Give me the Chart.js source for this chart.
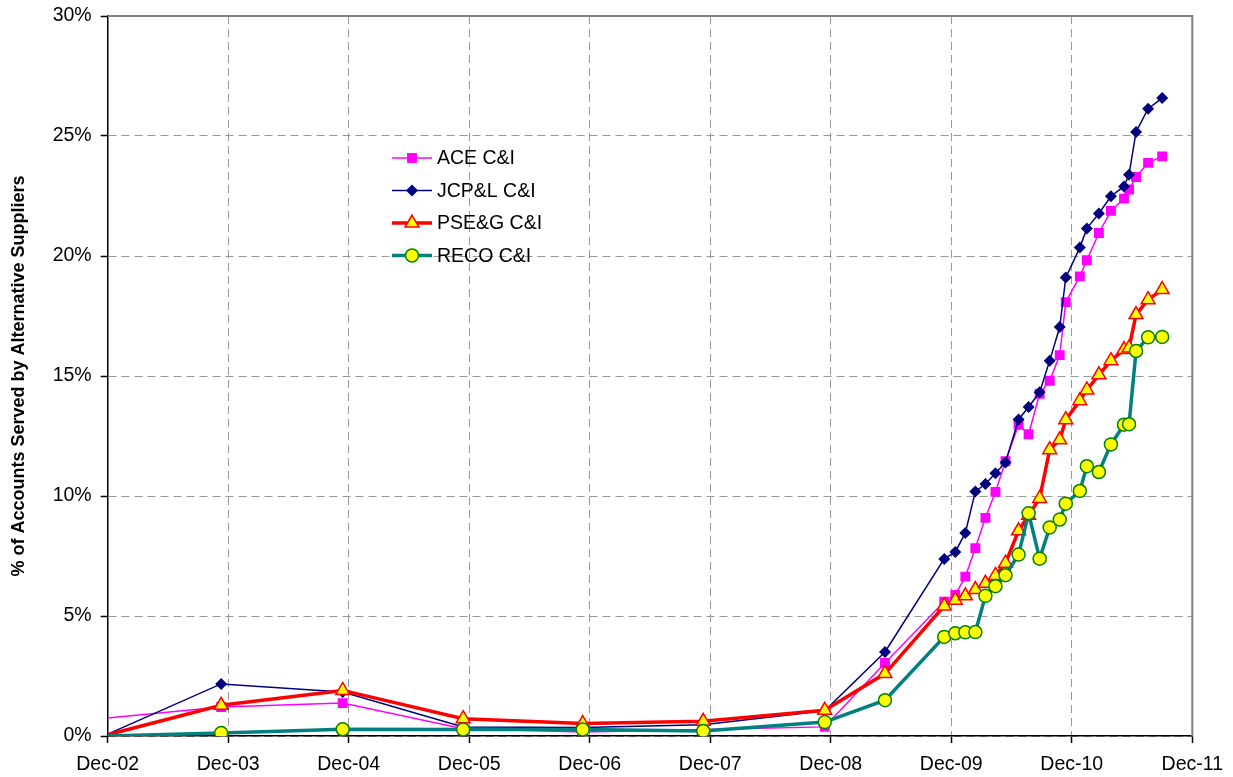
<!DOCTYPE html>
<html>
<head>
<meta charset="utf-8">
<script src="https://cdn.jsdelivr.net/npm/chart.js@4.4.0/dist/chart.umd.min.js"></script>
<style>
  html, body { margin: 0; padding: 0; background: #fff; }
  #wrap { width: 1233px; height: 777px; position: relative; }
</style>
</head>
<body>
<div id="wrap"><canvas id="chart"></canvas></div>
<script>
// months since Dec-02 for each reading
const months = [0, 11.3, 23.4, 35.4, 47.3, 59.3, 71.4, 77.4, 83.3, 84.4, 85.4, 86.4, 87.4, 88.4, 89.4,
  90.7, 91.7, 92.8, 93.8, 94.8, 95.4, 96.8, 97.5, 98.7, 99.9, 101.2, 101.7, 102.4, 103.6, 105.0];

const aceCI = [0.75, 1.21, 1.37, 0.3, 0.17, 0.27, 0.38, 3.04, 5.6, 5.88, 6.64, 7.83, 9.09, 10.17, 11.45,
  12.97, 12.57, 14.26, 14.8, 15.87, 18.08, 19.15, 19.82, 20.96, 21.88, 22.39, 22.77, 23.29, 23.88, 24.15];

const jcplCI = [0.08, 2.17, 1.83, 0.38, 0.35, 0.47, 1.05, 3.5, 7.38, 7.67, 8.46, 10.19, 10.5, 10.95, 11.4,
  13.19, 13.71, 14.32, 15.64, 17.04, 19.1, 20.35, 21.15, 21.77, 22.49, 22.9, 23.39, 25.17, 26.14, 26.58];

const psegCI = [0.05, 1.28, 1.9, 0.72, 0.52, 0.61, 1.07, 2.6, 5.42, 5.66, 5.84, 6.1, 6.36, 6.69, 7.2,
  8.55, 9.2, 9.9, 11.93, 12.34, 13.18, 13.97, 14.42, 15.05, 15.64, 16.1, 16.17, 17.56, 18.18, 18.6];

const recoCI = [0.0, 0.12, 0.28, 0.27, 0.27, 0.21, 0.58, 1.49, 4.13, 4.28, 4.32, 4.33, 5.84, 6.24, 6.7,
  7.56, 9.28, 7.39, 8.69, 9.02, 9.68, 10.21, 11.24, 11.0, 12.15, 12.97, 12.99, 16.04, 16.61, 16.63];

const xTickLabels = ["Dec-02", "Dec-03", "Dec-04", "Dec-05", "Dec-06", "Dec-07", "Dec-08", "Dec-09", "Dec-10", "Dec-11"];
const yTicks = [0, 5, 10, 15, 20, 25, 30];

const FONT = "'Liberation Sans', Arial, Helvetica, sans-serif";

function toPoints(values) {
  return values.map((v, i) => ({ x: months[i], y: v }));
}

// first reading sits on the axis with no marker
function radii(r) {
  return months.map((m, i) => (i === 0 ? 0 : r));
}

const datasets = [
  {
    label: "ACE C&I",
    data: toPoints(aceCI),
    borderColor: "#ff00ff",
    backgroundColor: "#ff00ff",
    borderWidth: 1.5,
    pointStyle: "rect",
    pointRadius: radii(7),
    pointBorderWidth: 0,
    pointBackgroundColor: "#ff00ff",
    order: 4,
  },
  {
    label: "JCP&L C&I",
    data: toPoints(jcplCI),
    borderColor: "#000080",
    backgroundColor: "#000080",
    borderWidth: 1.5,
    pointStyle: "rectRot",
    pointRadius: radii(6),
    pointBorderWidth: 0,
    pointBackgroundColor: "#000080",
    order: 3,
  },
  {
    label: "PSE&G C&I",
    data: toPoints(psegCI),
    borderColor: "#ff0000",
    backgroundColor: "#ffff00",
    borderWidth: 3.5,
    pointStyle: "triangle",
    pointRadius: radii(8),
    pointBorderWidth: 1.5,
    pointBorderColor: "#ff0000",
    pointBackgroundColor: "#ffff00",
    order: 2,
  },
  {
    label: "RECO C&I",
    data: toPoints(recoCI),
    borderColor: "#008080",
    backgroundColor: "#ffff00",
    borderWidth: 3.5,
    pointStyle: "circle",
    pointRadius: radii(6.5),
    pointBorderWidth: 1.5,
    pointBorderColor: "#008000",
    pointBackgroundColor: "#ffff00",
    order: 1,
  },
];

// legend box inside the plot, like the original
const insideLegend = {
  id: "insideLegend",
  afterDraw(chart) {
    const ctx = chart.ctx;
    const x0 = 392, x1 = 432, tx = 437;
    const ys = [158, 190.5, 223, 255.5];
    ctx.save();
    datasets.forEach((ds, i) => {
      const y = ys[i];
      ctx.beginPath();
      ctx.strokeStyle = ds.borderColor;
      ctx.lineWidth = ds.borderWidth;
      ctx.moveTo(x0, y);
      ctx.lineTo(x1, y);
      ctx.stroke();
      ctx.fillStyle = ds.pointBackgroundColor;
      ctx.strokeStyle = ds.pointBorderColor || ds.pointBackgroundColor;
      ctx.lineWidth = ds.pointBorderWidth;
      Chart.helpers.drawPoint(ctx, {
        pointStyle: ds.pointStyle,
        radius: ds.pointRadius[1],
        rotation: 0,
        borderWidth: ds.pointBorderWidth,
      }, (x0 + x1) / 2, y);
      ctx.fillStyle = "#000";
      ctx.font = "19.5px " + FONT;
      ctx.textBaseline = "middle";
      ctx.textAlign = "left";
      ctx.fillText(ds.label, tx, y + 1);
    });
    ctx.restore();
  },
};

// solid grey frame on the top and right of the plot
const plotFrame = {
  id: "plotFrame",
  beforeDatasetsDraw(chart) {
    const { ctx, chartArea: a } = chart;
    ctx.save();
    ctx.strokeStyle = "#808080";
    ctx.lineWidth = 2;
    ctx.beginPath();
    ctx.moveTo(a.left, a.top);
    ctx.lineTo(a.right, a.top);
    ctx.lineTo(a.right, a.bottom);
    ctx.stroke();
    ctx.restore();
  },
};

new Chart(document.getElementById("chart"), {
  type: "line",
  data: { datasets },
  options: {
    responsive: true,
    maintainAspectRatio: false,
    animation: false,
    layout: { padding: { top: 16, right: 40, left: 0, bottom: 0 } },
    elements: { line: { tension: 0 } },
    plugins: {
      legend: { display: false },
      tooltip: { enabled: false },
    },
    scales: {
      x: {
        type: "linear",
        min: 0,
        max: 108,
        afterFit: (s) => { s.height = 41; },
        afterBuildTicks: (s) => {
          s.ticks = xTickLabels.map((t, i) => ({ value: i * 12 }));
        },
        ticks: {
          color: "#000",
          font: { family: FONT, size: 19.5 },
          padding: 10,
          maxRotation: 0,
          autoSkip: false,
          callback: (v) => xTickLabels[Math.round(v / 12)],
        },
        grid: { color: "#999999", lineWidth: 1, tickColor: "#000", tickLength: 7, tickWidth: 1.5 },
        border: { color: "#000", width: 1.5, dash: [8, 5] },
      },
      y: {
        min: 0,
        max: 30,
        afterFit: (s) => {
          s.width = 107.7;
          s.paddingTop = 8;
          s.paddingBottom = 8;
        },
        afterBuildTicks: (s) => {
          s.ticks = yTicks.map((v) => ({ value: v }));
        },
        ticks: {
          color: "#000",
          font: { family: FONT, size: 19.5 },
          padding: 9,
          callback: (v) => v + "%",
        },
        grid: { color: "#999999", lineWidth: 1, tickColor: "#000", tickLength: 7, tickWidth: 1.5 },
        border: { color: "#000", width: 1.5, dash: [8, 5] },
        title: {
          display: true,
          text: "% of Accounts Served by Alternative Suppliers",
          color: "#000",
          font: { family: FONT, size: 18, weight: "bold" },
          padding: { top: 8, bottom: 0 },
        },
      },
    },
  },
  plugins: [plotFrame, insideLegend],
});
</script>
</body>
</html>
